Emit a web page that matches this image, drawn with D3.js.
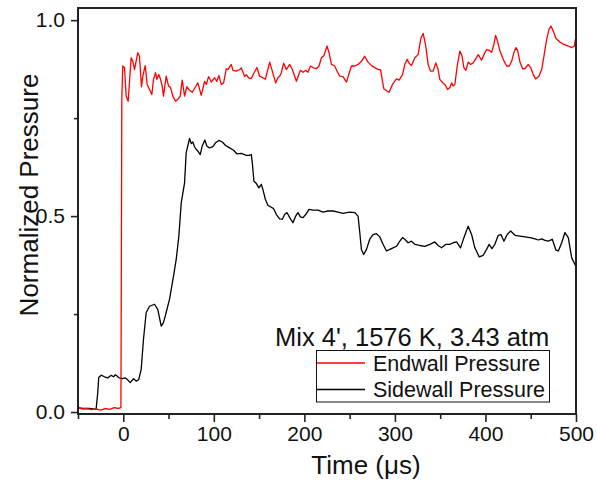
<!DOCTYPE html>
<html><head><meta charset="utf-8">
<script src="https://cdn.jsdelivr.net/npm/d3@7"></script>
<style>body{margin:0;background:#fff}svg{display:block}text{font-family:"Liberation Sans",Arial,sans-serif}</style>
</head><body><svg id="c" width="597" height="483"></svg>
<script>
const endwallTime = [-50,-45,-40,-35,-30,-25,-20,-15,-10,-5,-2.6,-1.6,-0.55,1.33,3.2,5.4,8.7,10.5,12.4,16.0,17.9,20.1,21.6,24.2,26.4,29.0,31.5,33.4,35.6,37.0,39.3,41.1,43.0,44.4,47.4,50.0,52.2,54.7,57.7,60.3,62.9,65.1,67.7,70.2,73.2,76.2,79.8,82.4,86.1,89.8,91.7,94.2,97.2,100.8,103.4,105.6,108.2,110.8,113.8,115.5,119.3,121.1,124.8,128.5,130.4,134.0,135.9,138.4,141.4,144.0,147.6,150.6,154.2,156.9,161.7,164.6,168.3,170.8,172.7,174.6,177.1,180.1,183.8,186.7,191.2,195.6,198.5,201.5,204.0,206.7,209.5,213.3,216.2,218.8,221.7,225.0,227.2,229.9,233.5,236.1,239.1,242.7,246.5,249.3,252.0,255.6,259.3,263.0,266.6,270.3,274.1,277.7,281.4,284.1,287.7,291.4,293.6,297.3,301.8,304.6,308.4,310.9,313.5,315.7,318.3,322.0,325.6,328.6,331.2,334.1,336.7,339.3,342.2,345.2,347.7,349.6,353.3,355.2,358.1,360.7,362.6,364.3,366.2,368.8,371.7,374.0,376.2,378.4,380.9,383.6,386.4,389.4,392.0,395.7,398.3,401.3,404.1,406.8,409.3,411.2,413.4,416.0,419.6,423.4,426.3,428.9,431.4,433.7,435.5,438.1,441.1,443.6,447.3,449.9,452.8,455.4,459.1,462.1,464.6,467.6,470.1,472.4,474.9,477.9,482.3,486.7,491.5,495.2,498.1,500];
const endwallPressure = [0.010,0.008,0.009,0.006,0.008,0.005,0.009,0.007,0.011,0.009,0.012,0.800,0.883,0.879,0.806,0.793,0.904,0.895,0.874,0.917,0.908,0.830,0.857,0.884,0.836,0.823,0.810,0.849,0.866,0.849,0.861,0.849,0.832,0.806,0.857,0.832,0.828,0.806,0.793,0.798,0.806,0.847,0.806,0.830,0.821,0.816,0.830,0.840,0.808,0.844,0.836,0.856,0.842,0.853,0.844,0.859,0.836,0.840,0.876,0.874,0.887,0.872,0.870,0.874,0.878,0.856,0.861,0.853,0.851,0.864,0.879,0.857,0.853,0.849,0.893,0.870,0.840,0.853,0.857,0.866,0.890,0.874,0.887,0.874,0.844,0.872,0.867,0.872,0.867,0.883,0.879,0.876,0.883,0.904,0.910,0.934,0.917,0.887,0.883,0.870,0.857,0.856,0.842,0.864,0.883,0.883,0.887,0.895,0.908,0.893,0.884,0.879,0.874,0.874,0.825,0.819,0.816,0.836,0.850,0.847,0.861,0.887,0.900,0.890,0.884,0.904,0.912,0.953,0.966,0.934,0.887,0.870,0.870,0.891,0.874,0.849,0.839,0.836,0.823,0.828,0.840,0.832,0.836,0.883,0.921,0.910,0.879,0.872,0.893,0.887,0.891,0.902,0.912,0.898,0.912,0.925,0.923,0.918,0.938,0.961,0.946,0.921,0.900,0.883,0.883,0.895,0.917,0.930,0.923,0.893,0.876,0.876,0.887,0.879,0.861,0.850,0.857,0.874,0.908,0.951,0.976,0.985,0.972,0.953,0.944,0.938,0.934,0.930,0.934,0.959];
const sidewallTime = [-50,-44.8,-37.4,-30.0,-28.2,-27.1,-24.4,-20.8,-17.1,-13.4,-10.8,-8.6,-5.0,-1.2,2.4,5.0,7.6,11.3,14.3,17.1,19.8,22.3,25.3,29.0,34.5,38.1,41.9,44.4,47.4,51.1,55.5,58.5,61.4,64.0,67.7,69.5,73.2,75.1,76.8,78.7,80.6,82.4,85.0,87.2,90.1,92.3,95.3,99.0,101.9,105.6,109.4,113.0,117.4,121.8,125.5,130.4,135.9,138.8,141.4,142.5,144.3,147.0,149.8,152.5,154.2,156.9,159.8,162.4,166.1,169.1,172.7,175.7,178.2,180.8,183.8,187.4,190.4,192.9,195.6,198.5,201.5,205.1,209.5,215.1,220.6,226.1,231.6,237.2,242.7,246.5,250.9,255.6,259.3,261.2,263.0,265.5,268.6,272.2,275.9,279.6,283.3,286.9,290.7,294.3,298.0,301.7,305.4,308.4,310.9,314.6,318.3,322.0,327.5,333.0,338.6,344.1,347.7,351.5,356.3,360.7,364.3,368.1,372.5,376.2,380.9,384.7,388.3,393.1,397.5,401.3,404.1,407.1,410.4,414.1,417.1,420.4,424.0,427.8,432.6,438.1,443.6,449.1,454.7,458.3,462.1,465.7,469.4,473.8,477.9,480.5,484.2,487.8,491.5,495.2,500];
const sidewallPressure = [0.011,0.009,0.009,0.007,0.049,0.088,0.094,0.090,0.087,0.094,0.090,0.095,0.088,0.085,0.087,0.082,0.075,0.085,0.079,0.083,0.109,0.185,0.254,0.270,0.275,0.262,0.219,0.228,0.254,0.288,0.347,0.390,0.449,0.534,0.585,0.662,0.698,0.685,0.689,0.677,0.670,0.666,0.657,0.679,0.694,0.679,0.674,0.677,0.687,0.693,0.689,0.680,0.674,0.668,0.659,0.660,0.655,0.655,0.657,0.636,0.589,0.583,0.572,0.581,0.568,0.543,0.527,0.524,0.519,0.504,0.493,0.492,0.504,0.509,0.496,0.483,0.500,0.509,0.498,0.496,0.504,0.517,0.515,0.515,0.510,0.513,0.513,0.510,0.507,0.509,0.510,0.509,0.500,0.458,0.415,0.402,0.415,0.441,0.453,0.455,0.447,0.428,0.411,0.415,0.419,0.423,0.436,0.445,0.441,0.432,0.436,0.428,0.425,0.423,0.428,0.434,0.425,0.419,0.428,0.428,0.432,0.434,0.419,0.445,0.474,0.453,0.419,0.396,0.400,0.415,0.428,0.417,0.428,0.451,0.453,0.436,0.453,0.462,0.451,0.449,0.447,0.445,0.442,0.439,0.442,0.438,0.436,0.441,0.413,0.411,0.432,0.458,0.445,0.394,0.371];
const xMajorTicks = [0,100,200,300,400,500];
const xMinorTicks = [-50,50,150,250,350,450];
const yMajorTicks = [0,0.5,1.0];
const yMinorTicks = [0.25,0.75];
const seriesNames = ["Endwall Pressure","Sidewall Pressure"];
const seriesColors = ["#ff0000","#000000"];
const annotation = "Mix 4', 1576 K, 3.43 atm";

const svg = d3.select("#c");
const m = {l:78, t:8, r:21, b:69};
const W = 597 - m.l - m.r, H = 483 - m.t - m.b;
const x = d3.scaleLinear().domain([-50,500]).range([0,W]);
const y = d3.scaleLinear().domain([-0.005,1.031]).range([H,0]);
const g = svg.append("g").attr("transform",`translate(${m.l},${m.t})`);

g.append("defs").append("clipPath").attr("id","clip").append("rect").attr("width",W).attr("height",H);

const line = d3.line().x(d=>x(d[0])).y(d=>y(d[1]));
const endData = endwallTime.map((t,i)=>[t,endwallPressure[i]]);
const sideData = sidewallTime.map((t,i)=>[t,sidewallPressure[i]]);
const lines = g.append("g").attr("clip-path","url(#clip)");
lines.append("path").datum(sideData).attr("d",line).attr("fill","none").attr("stroke",seriesColors[1]).attr("stroke-width",1.3).attr("stroke-linejoin","round");
lines.append("path").datum(endData).attr("d",line).attr("fill","none").attr("stroke",seriesColors[0]).attr("stroke-width",1.3).attr("stroke-linejoin","round");

// minor ticks
const xMinor = g.append("g").attr("transform",`translate(0,${H})`).call(d3.axisBottom(x).tickValues(xMinorTicks).tickSize(5).tickSizeOuter(0).tickFormat(""));
const yMinor = g.append("g").call(d3.axisLeft(y).tickValues(yMinorTicks).tickSize(4).tickSizeOuter(0).tickFormat(""));
const xAx = g.append("g").attr("transform",`translate(0,${H})`).call(d3.axisBottom(x).tickValues(xMajorTicks).tickSize(8).tickSizeOuter(0).tickPadding(4).tickFormat(d3.format("d")));
const yAx = g.append("g").call(d3.axisLeft(y).tickValues(yMajorTicks).tickSize(7).tickSizeOuter(0).tickPadding(6).tickFormat(d3.format(".1f")));
[xMinor,yMinor,xAx,yAx].forEach(a=>{
  a.select(".domain").remove();
  a.selectAll(".tick line").attr("stroke","#222").attr("stroke-width",1.6);
  a.selectAll(".tick text").attr("font-size",21).attr("fill","#111").style("font-family","'Liberation Sans',Arial,sans-serif");
});
// frame
g.append("rect").attr("width",W).attr("height",H).attr("fill","none").attr("stroke","#222").attr("stroke-width",2);

// axis titles
svg.append("text").attr("transform","translate(38,195) rotate(-90)").attr("text-anchor","middle").attr("font-size",26).attr("fill","#111").text("Normalized Pressure");
const xt = svg.append("text").attr("x",366).attr("y",474).attr("text-anchor","middle").attr("font-size",26).attr("fill","#111");
xt.append("tspan").text("Time (");
xt.append("tspan").text("μ");
xt.append("tspan").text("s)");

// annotation
svg.append("text").attr("x",275).attr("y",346).attr("font-size",25.5).attr("fill","#111").text(annotation);

// legend
const lg = svg.append("g");
lg.append("rect").attr("x",316.5).attr("y",350.5).attr("width",233).attr("height",51.5).attr("fill","#fff").attr("stroke","#111").attr("stroke-width",1);
seriesNames.forEach((n,i)=>{
  const yy = 363 + i*26.5;
  lg.append("line").attr("x1",317).attr("x2",365).attr("y1",yy).attr("y2",yy).attr("stroke",seriesColors[i]).attr("stroke-width",1.5);
  lg.append("text").attr("x",373).attr("y",371+i*26.3).attr("font-size",21.5).attr("fill","#111").text(n);
});
</script></body></html>
